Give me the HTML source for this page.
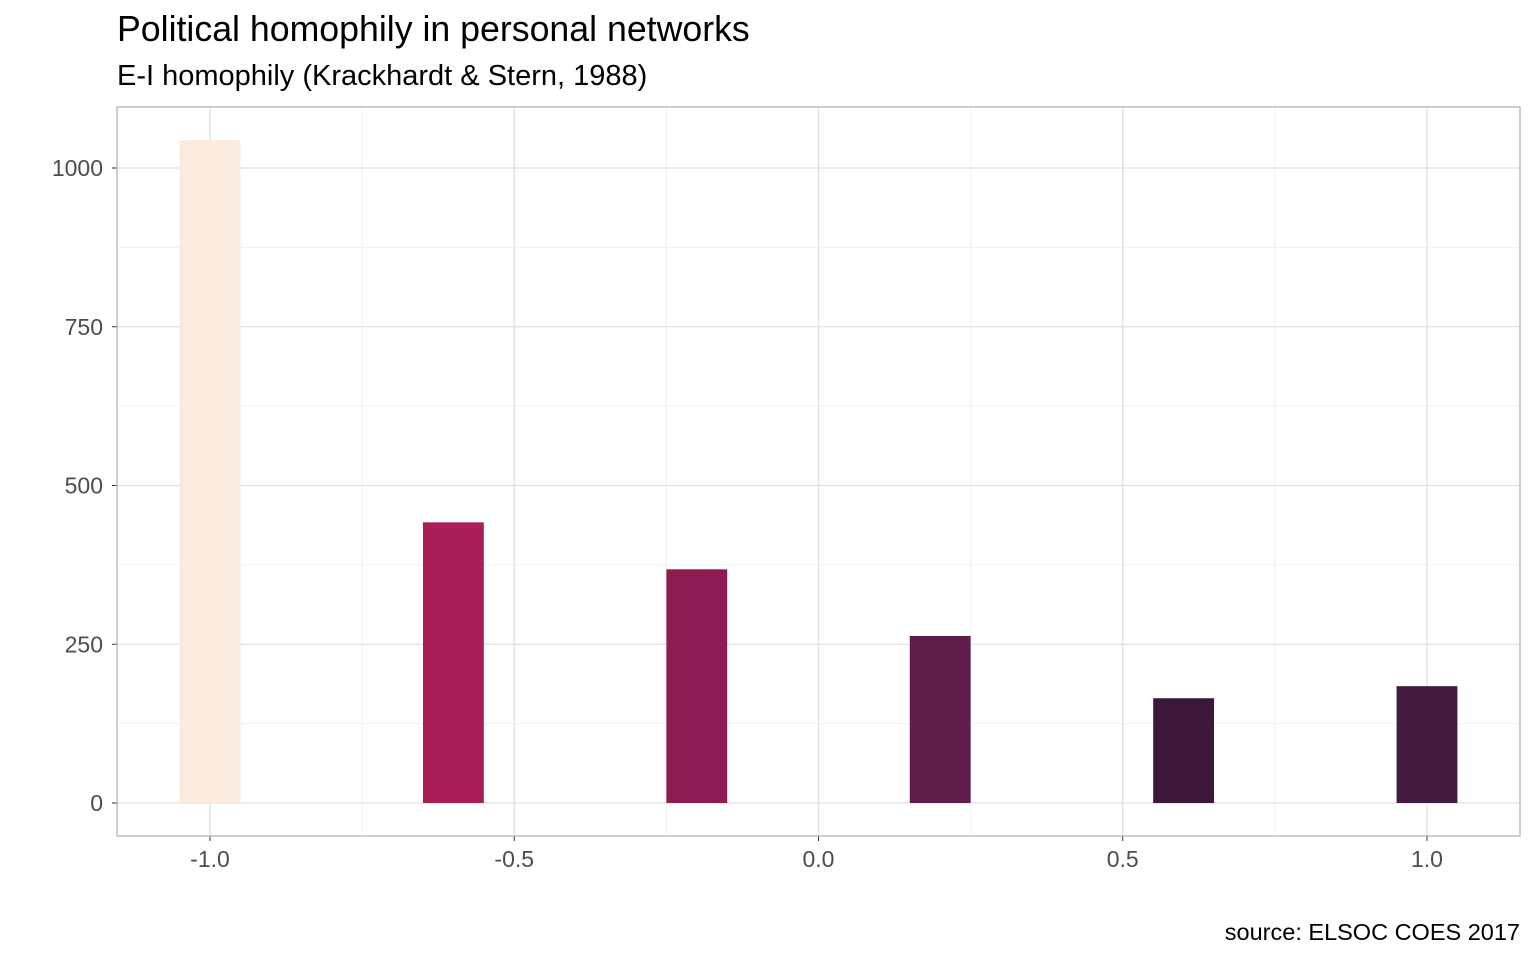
<!DOCTYPE html>
<html><head><meta charset="utf-8"><style>
body{margin:0;background:#fff;font-family:"Liberation Sans",sans-serif;}
svg text{font-family:"Liberation Sans",sans-serif;}
</style></head><body>
<svg id="chart" width="1536" height="960" xmlns="http://www.w3.org/2000/svg">
<text x="117" y="41" font-size="35.7" fill="#000">Political homophily in personal networks</text>
<text x="117" y="85" font-size="29" fill="#000">E-I homophily (Krackhardt &amp; Stern, 1988)</text>
<text x="1520" y="940" font-size="23.5" text-anchor="end" fill="#000">source: ELSOC COES 2017</text>
<g id="grid"></g><g id="bars"></g><g id="axes"></g>
<rect x="117" y="107" width="1403" height="729" fill="none" stroke="#b3b3b3" stroke-width="1.3"/>
</svg>
<script>
const categories=[-1.0,-0.6,-0.2,0.2,0.6,1.0];
const counts=[1044,442,368,263,165,184];
const colors=["#FBEBDE","#A91F55","#8C1C52","#601D4C","#3B1839","#451A40"];
const xTicks=[-1.0,-0.5,0.0,0.5,1.0];
const xTickLabels=["-1.0","-0.5","0.0","0.5","1.0"];
const yTicks=[0,250,500,750,1000];
const yTickLabels=["0","250","500","750","1000"];
const barWidth=0.1;
const NS="http://www.w3.org/2000/svg";
function xS(v){return 818.5+v*608.5;}
function yS(v){return 803-v*0.635;}
const grid=document.getElementById('grid'),bars=document.getElementById('bars'),axes=document.getElementById('axes');
function ln(p,x1,y1,x2,y2,c,w,name){const l=document.createElementNS(NS,'line');l.setAttribute('x1',x1);l.setAttribute('y1',y1);l.setAttribute('x2',x2);l.setAttribute('y2',y2);l.setAttribute('stroke',c);l.setAttribute('stroke-width',w);


p.appendChild(l);}
for(let i=0;i<yTicks.length-1;i++){const m=(yTicks[i]+yTicks[i+1])/2;ln(grid,117,yS(m),1520,yS(m),'#f0f0f0',1,'y-minor-gridline');}
for(let i=0;i<xTicks.length-1;i++){const m=(xTicks[i]+xTicks[i+1])/2;ln(grid,xS(m),107,xS(m),836,'#f0f0f0',1,'x-minor-gridline');}
yTicks.forEach((t,i)=>{ln(grid,117,yS(t),1520,yS(t),'#e0e0e0',1.3,'y-major-gridline');ln(axes,112,yS(t),117,yS(t),'#333',1,'y-tick');
const tx=document.createElementNS(NS,'text');tx.setAttribute('x',103);tx.setAttribute('y',yS(t)+8);tx.setAttribute('text-anchor','end');tx.setAttribute('font-size','23');tx.setAttribute('fill','#4d4d4d');tx.textContent=yTickLabels[i];


axes.appendChild(tx);});
xTicks.forEach((t,i)=>{ln(grid,xS(t),107,xS(t),836,'#e0e0e0',1.3,'x-major-gridline');ln(axes,xS(t),836,xS(t),841,'#333',1,'x-tick');
const tx=document.createElementNS(NS,'text');tx.setAttribute('x',xS(t));tx.setAttribute('y',867);tx.setAttribute('text-anchor','middle');tx.setAttribute('font-size','23');tx.setAttribute('fill','#4d4d4d');tx.textContent=xTickLabels[i];


axes.appendChild(tx);});
categories.forEach((c,i)=>{const r=document.createElementNS(NS,'rect');const x0=xS(c-barWidth/2),x1=xS(c+barWidth/2);
r.setAttribute('x',x0);r.setAttribute('width',x1-x0);r.setAttribute('y',yS(counts[i]));r.setAttribute('height',yS(0)-yS(counts[i]));r.setAttribute('fill',colors[i]);


bars.appendChild(r);});
</script>
</body></html>
